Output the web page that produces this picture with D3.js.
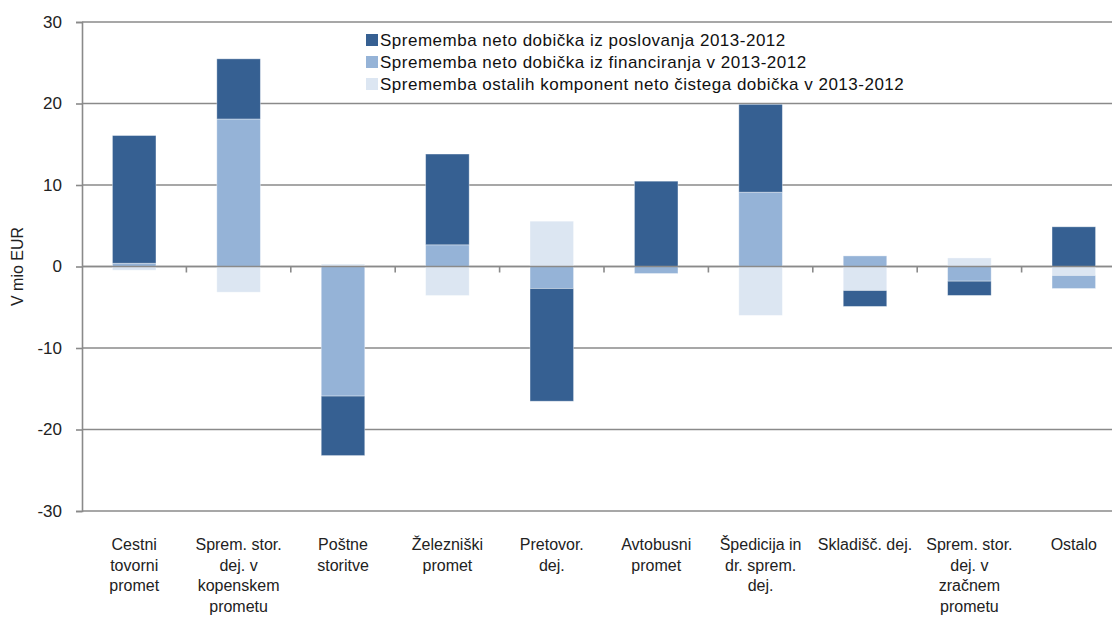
<!DOCTYPE html>
<html>
<head>
<meta charset="utf-8">
<script src="https://cdn.jsdelivr.net/npm/d3@7"></script>
<style>
  html, body { margin: 0; padding: 0; background: #fff; }
  svg { display: block; font-family: "Liberation Sans Narrow", "Liberation Sans", sans-serif; }
</style>
</head>
<body>
<svg id="chart" width="1112" height="618"></svg>
<script>
// Branches of transport activity (each label split into its printed lines)
const categories = [
  ["Cestni", "tovorni", "promet"],
  ["Sprem. stor.", "dej. v", "kopenskem", "prometu"],
  ["Poštne", "storitve"],
  ["Železniški", "promet"],
  ["Pretovor.", "dej."],
  ["Avtobusni", "promet"],
  ["Špedicija in", "dr. sprem.", "dej."],
  ["Skladišč. dej."],
  ["Sprem. stor.", "dej. v", "zračnem", "prometu"],
  ["Ostalo"]
];

// Change in other components of net profit 2013-2012 (mio EUR)
const ostaleKomponente = [-0.45, -3.15, 0.3, -3.56, 5.56, 0, -6.0, -2.95, 1.05, -1.1];
// Change in net profit from financing 2013-2012 (mio EUR)
const financiranje = [0.4, 18.1, -15.9, 2.66, -2.7, -0.86, 9.12, 1.3, -1.8, -1.6];
// Change in net profit from operations 2013-2012 (mio EUR)
const poslovanje = [15.67, 7.38, -7.3, 11.14, -13.83, 10.47, 10.78, -1.95, -1.75, 4.87];

const yTicks = [-30, -20, -10, 0, 10, 20, 30];
const yTitle = "V mio EUR";

// Stacking order (bottom first) and legend order (top first)
const seriesKeys = ["ostale", "financiranje", "poslovanje"];
const seriesNames = {
  poslovanje: "Sprememba neto dobička iz poslovanja 2013-2012",
  financiranje: "Sprememba neto dobička iz financiranja v 2013-2012",
  ostale: "Sprememba ostalih komponent neto čistega dobička v 2013-2012"
};
const legendOrder = ["poslovanje", "financiranje", "ostale"];
const colors = { poslovanje: "#366092", financiranje: "#95B3D7", ostale: "#DCE6F2" };

const rows = categories.map((c, i) => ({
  key: c.join(" "),
  lines: c,
  ostale: ostaleKomponente[i],
  financiranje: financiranje[i],
  poslovanje: poslovanje[i]
}));

const svg = d3.select("#chart");
const plot = { left: 82, right: 1126, top: 22, bottom: 511 };

const x = d3.scaleBand()
  .domain(rows.map(d => d.key))
  .range([plot.left, plot.right])
  .paddingInner(0.583)
  .paddingOuter(0.2915);

const y = d3.scaleLinear().domain([-30, 30]).range([plot.bottom, plot.top]);

const gridColor = "#8a8a8a";

// Horizontal gridlines
svg.append("g")
  .selectAll("line")
  .data(yTicks)
  .join("line")
  .attr("x1", plot.left)
  .attr("x2", plot.right)
  .attr("y1", d => y(d))
  .attr("y2", d => y(d))
  .attr("stroke", gridColor)
  .attr("stroke-width", 1.6);

// Stacked bars: positives build up from zero, negatives build down
const stacked = d3.stack()
  .keys(seriesKeys)
  .offset(d3.stackOffsetDiverging)(rows);

svg.append("g")
  .selectAll("g")
  .data(stacked)
  .join("g")
  .attr("fill", s => colors[s.key])
  .selectAll("rect")
  .data(s => s.map(v => ({ key: v.data.key, y0: v[0], y1: v[1] })))
  .join("rect")
  .attr("x", d => x(d.key))
  .attr("width", x.bandwidth())
  .attr("y", d => y(Math.max(d.y0, d.y1)))
  .attr("height", d => Math.abs(y(d.y0) - y(d.y1)))
  .attr("stroke", "rgba(255,255,255,0.45)")
  .attr("stroke-width", 0.8);

// Zero line drawn over the bars, with category boundary ticks
svg.append("line")
  .attr("x1", plot.left).attr("x2", plot.right)
  .attr("y1", y(0)).attr("y2", y(0))
  .attr("stroke", gridColor).attr("stroke-width", 1.6);

const step = x.step();
svg.append("g")
  .selectAll("line")
  .data(d3.range(1, categories.length))
  .join("line")
  .attr("x1", i => plot.left + i * step)
  .attr("x2", i => plot.left + i * step)
  .attr("y1", y(0))
  .attr("y2", y(0) + 6)
  .attr("stroke", gridColor)
  .attr("stroke-width", 1.6);

// Y axis (plain hyphen for negative numbers)
const yAxis = svg.append("g")
  .attr("transform", `translate(${plot.left},0)`)
  .call(d3.axisLeft(y).tickValues(yTicks).tickSize(6).tickPadding(14).tickFormat(d => String(d)));
yAxis.select(".domain").attr("stroke", gridColor).attr("stroke-width", 1.6);
yAxis.selectAll(".tick line").attr("stroke", gridColor).attr("stroke-width", 1.6);
yAxis.selectAll(".tick text")
  .attr("font-size", 17)
  .attr("font-family", "'Liberation Sans Narrow', 'Liberation Sans', sans-serif")
  .attr("fill", "#222");

svg.append("text")
  .attr("transform", `translate(23,${y(0)}) rotate(-90)`)
  .attr("text-anchor", "middle")
  .attr("font-size", 16)
  .attr("fill", "#222")
  .text(yTitle);

// Category labels under the plot
const labels = svg.append("g")
  .selectAll("text")
  .data(rows)
  .join("text")
  .attr("text-anchor", "middle")
  .attr("font-size", 16)
  .attr("fill", "#222")
  .attr("x", d => x(d.key) + x.bandwidth() / 2)
  .attr("y", 550);
labels.selectAll("tspan")
  .data(d => d.lines.map(t => ({ t, cx: x(d.key) + x.bandwidth() / 2 })))
  .join("tspan")
  .attr("x", d => d.cx)
  .attr("dy", (d, i) => i === 0 ? 0 : 20.5)
  .text(d => d.t);

// Legend
const legend = svg.append("g").attr("transform", "translate(366,40)");
const item = legend.selectAll("g")
  .data(legendOrder)
  .join("g")
  .attr("transform", (d, i) => `translate(0,${i * 22})`);
item.append("rect")
  .attr("x", 0).attr("y", -6)
  .attr("width", 12).attr("height", 12)
  .attr("fill", d => colors[d]);
item.append("text")
  .attr("x", 14)
  .attr("y", 6)
  .attr("font-size", 17)
  .attr("letter-spacing", 0.5)
  .attr("fill", "#111")
  .text(d => seriesNames[d]);
</script>
</body>
</html>
